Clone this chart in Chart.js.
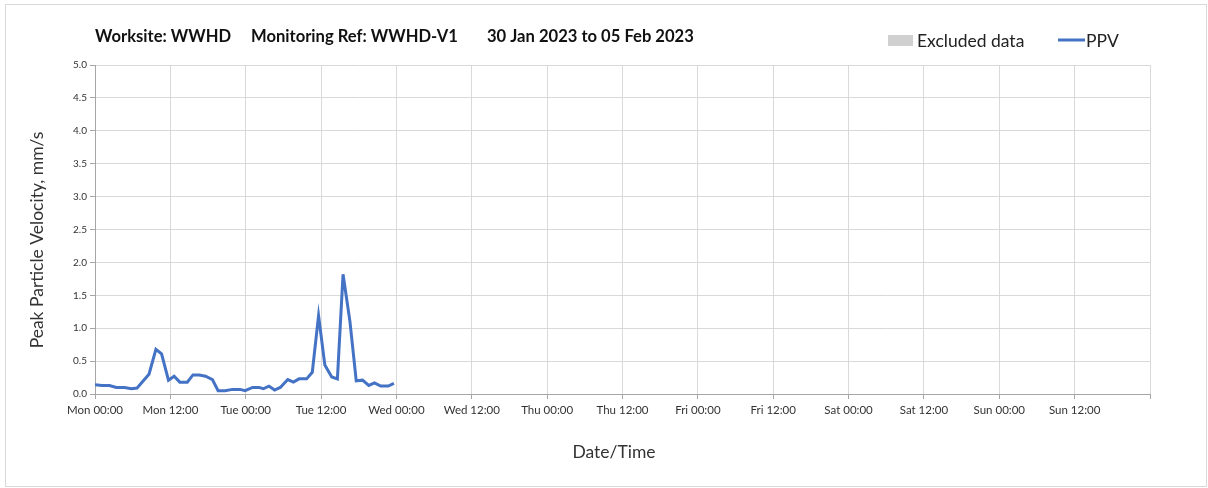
<!DOCTYPE html>
<html>
<head>
<meta charset="utf-8">
<script src="https://cdn.jsdelivr.net/npm/chart.js@4/dist/chart.umd.min.js"></script>
<style>
  html, body { margin: 0; padding: 0; background: #fff; }
  #wrap { position: relative; width: 1208px; height: 488px; }
  #frame { position: absolute; left: 5px; top: 4px; right: 1px; bottom: 1px; border: 1px solid #d9d9d9; pointer-events: none; }
  canvas { display: block; }
</style>
</head>
<body>
<div id="wrap">
  <canvas id="c" width="1208" height="488"></canvas>
  <div id="frame"></div>
</div>
<script>
// Reading times, hours after Mon 30 Jan 2023 00:00
const hoursFromStart = [
  0.0, 1.1, 2.3, 3.4, 4.7, 5.8, 6.7, 7.7, 8.6, 9.7,
  10.6, 11.7, 12.6, 13.5, 14.7, 15.6, 16.6, 17.6, 18.7, 19.6,
  20.7, 21.9, 23.1, 23.9, 25.1, 26.1, 26.8, 27.7, 28.6, 29.5,
  30.7, 31.6, 32.5, 33.7, 34.6, 35.6, 36.6, 37.7, 38.6, 39.5,
  40.6, 41.6, 42.6, 43.6, 44.5, 45.5, 46.7, 47.6
];
// Peak particle velocity, mm/s
const ppv = [
  0.14, 0.13, 0.13, 0.10, 0.10, 0.08, 0.09, 0.20, 0.30, 0.68,
  0.61, 0.21, 0.27, 0.18, 0.18, 0.29, 0.29, 0.27, 0.22, 0.05,
  0.05, 0.07, 0.07, 0.05, 0.10, 0.10, 0.08, 0.12, 0.06, 0.10,
  0.22, 0.18, 0.23, 0.23, 0.33, 1.19, 0.44, 0.26, 0.23, 1.82,
  1.10, 0.20, 0.21, 0.13, 0.17, 0.12, 0.12, 0.16
];
const dayNames = ['Mon', 'Tue', 'Wed', 'Thu', 'Fri', 'Sat', 'Sun'];
const titleParts = ['Worksite: WWHD', 'Monitoring Ref: WWHD-V1', '30 Jan 2023 to 05 Feb 2023'];
const legendItems = ['Excluded data', 'PPV'];
const yTitle = 'Peak Particle Velocity, mm/s';
const xTitle = 'Date/Time';

const FONT = 'Lato, "Open Sans", sans-serif';
const lineColor = '#4472c4';

const textPlugin = {
  id: 'chartText',
  afterDraw(chart) {
    const ctx = chart.ctx;
    ctx.save();
    // title
    ctx.fillStyle = '#111';
    ctx.font = 'bold 16.6px ' + FONT;
    ctx.textBaseline = 'middle';
    ctx.textAlign = 'left';
    const titleX = [95, 251, 487];
    titleParts.forEach((t, i) => ctx.fillText(t, titleX[i], 37));
    // legend
    ctx.font = '17.5px ' + FONT;
    ctx.fillStyle = '#d0d0d0';
    ctx.fillRect(888, 35, 25, 11);
    ctx.fillStyle = '#222';
    ctx.fillText(legendItems[0], 917, 41);
    ctx.strokeStyle = lineColor;
    ctx.lineWidth = 3;
    ctx.beginPath();
    ctx.moveTo(1058, 40);
    ctx.lineTo(1085, 40);
    ctx.stroke();
    ctx.fillText(legendItems[1], 1086, 41);
    // axis titles
    ctx.fillStyle = '#333';
    ctx.font = '17.5px ' + FONT;
    ctx.textAlign = 'center';
    ctx.fillText(xTitle, 614, 452);
    ctx.translate(37, 240);
    ctx.rotate(-Math.PI / 2);
    ctx.fillText(yTitle, 0, 0);
    ctx.restore();
  }
};

new Chart(document.getElementById('c'), {
  type: 'line',
  data: {
    datasets: [{
      label: legendItems[1],
      data: hoursFromStart.map((h, i) => ({ x: h, y: ppv[i] })),
      borderColor: lineColor,
      borderWidth: 3,
      pointRadius: 0,
      tension: 0,
      fill: false
    }]
  },
  options: {
    responsive: false,
    animation: false,
    events: [],
    layout: { padding: { top: 65, right: 58, bottom: 0, left: 0 } },
    plugins: { legend: { display: false }, title: { display: false }, tooltip: { enabled: false } },
    scales: {
      x: {
        type: 'linear',
        min: 0,
        max: 168,
        afterFit(s) { s.height = 94; },
        afterBuildTicks(s) {
          const t = [];
          for (let v = 0; v <= 168; v += 12) t.push({ value: v });
          s.ticks = t;
        },
        ticks: {
          autoSkip: false,
          maxRotation: 0,
          padding: 4,
          color: '#333',
          font: { family: FONT, size: 11.5 },
          callback(v) {
            if (v >= 168) return '';
            const d = dayNames[Math.floor(v / 24)];
            return d + (v % 24 === 0 ? ' 00:00' : ' 12:00');
          }
        },
        grid: { color: '#d9d9d9', tickColor: '#a6a6a6', tickLength: 5, lineWidth: 1 },
        border: { color: '#a6a6a6', width: 1 }
      },
      y: {
        min: 0,
        max: 5,
        afterFit(s) { s.width = 95; },
        ticks: {
          stepSize: 0.5,
          padding: 3,
          color: '#333',
          font: { family: FONT, size: 10 },
          callback(v) { return v.toFixed(1); }
        },
        grid: { color: '#d9d9d9', tickColor: '#a6a6a6', tickLength: 5, lineWidth: 1 },
        border: { color: '#a6a6a6', width: 1 }
      }
    }
  },
  plugins: [textPlugin]
});
</script>
</body>
</html>
